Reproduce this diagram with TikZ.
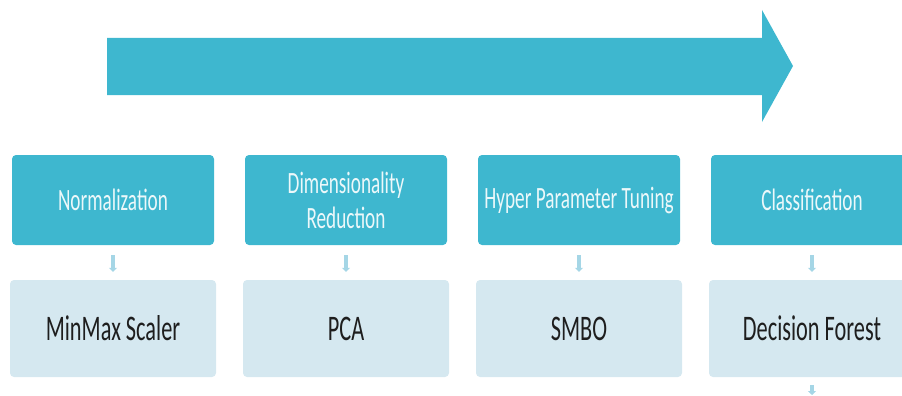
\documentclass[tikz,border=0pt]{standalone}
\usepackage{fontspec}
\setmainfont[FakeStretch=0.62]{Carlito}
\usetikzlibrary{arrows.meta}
\definecolor{teal1}{RGB}{62,183,207}
\definecolor{pale}{RGB}{213,232,240}
\definecolor{arrowpale}{RGB}{165,214,230}
\definecolor{toptext}{RGB}{236,248,250}
\definecolor{bottext}{RGB}{30,30,30}
\tikzset{
  topbox/.style={draw=none, fill=teal1, rounded corners=4pt, minimum width=202pt, minimum height=90pt,
    inner sep=0pt, text=toptext, align=center, font=\fontsize{31}{35}\selectfont},
  botbox/.style={draw=none, fill=pale, rounded corners=4pt, minimum width=206pt, minimum height=97pt,
    inner sep=0pt, text=bottext, align=center, font=\fontsize{36}{40}\selectfont},
  smallarrow/.style={draw=arrowpale, line width=4pt, -{Triangle[width=8pt,length=4pt]}, shorten <=10pt, shorten >=8pt},
}
\begin{document}
\begin{tikzpicture}[x=1pt,y=-1pt]
\useasboundingbox (0,0) rectangle (902,396);
\clip (0,0) rectangle (902,396);
% big arrow
\fill[teal1] (107,38) -- (762,38) -- (762,10) -- (793,66) -- (762,122) -- (762,95) -- (107,95) -- cycle;
% top boxes
\node[topbox] (t1) at (113,200) {Normalization};
\node[topbox] (t2) at (346,200) {Dimensionality\\Reduction};
\node[topbox] (t3) at (579,200) {Hyper Parameter Tuning};
\node[topbox] (t4) at (812,200) {Classification};
% bottom boxes
\node[botbox] (b1) at (113,328.5) {MinMax Scaler};
\node[botbox] (b2) at (346,328.5) {PCA};
\node[botbox] (b3) at (579,328.5) {SMBO};
\node[botbox] (b4) at (812,328.5) {Decision Forest};
\coordinate (end) at (812,396);
% small arrows
\draw[smallarrow] (t1) -- (b1);
\draw[smallarrow] (t2) -- (b2);
\draw[smallarrow] (t3) -- (b3);
\draw[smallarrow] (t4) -- (b4);
\draw[smallarrow, shorten <=8pt, shorten >=1pt] (b4) -- (end);
\end{tikzpicture}
\end{document}
